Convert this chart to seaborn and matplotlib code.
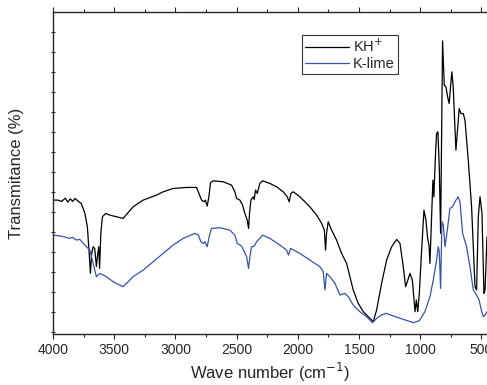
import numpy as np
import pandas as pd
import matplotlib
matplotlib.use("Agg")
import matplotlib.pyplot as plt
import seaborn as sns
from matplotlib.ticker import MultipleLocator

sns.set_style("ticks")
plt.rcParams['font.family'] = ['Liberation Sans', 'DejaVu Sans']

# KH+ spectrum (wave number, transmittance in arbitrary units)
kh_wn = [4000, 3960, 3930, 3900, 3880, 3860, 3840, 3820, 3800, 3770, 3740, 3720, 3705, 3695,
         3685, 3673, 3660, 3646, 3638, 3627, 3620, 3610, 3597, 3570, 3537, 3428, 3346, 3264,
         3155, 3100, 3019, 2910, 2828, 2809, 2787, 2768, 2755, 2741, 2727, 2714, 2692, 2610,
         2542, 2515, 2501, 2474, 2452, 2433, 2414, 2403, 2395, 2384, 2365, 2357, 2346, 2332,
         2311, 2289, 2229, 2174, 2120, 2087, 2071, 2057, 2038, 1984, 1902, 1847, 1806, 1784,
         1774, 1766, 1752, 1725, 1684, 1643, 1602, 1575, 1548, 1507, 1466, 1425, 1398, 1384,
         1357, 1316, 1275, 1234, 1193, 1166, 1139, 1120, 1106, 1084, 1065, 1043, 1032, 1021,
         1008, 989, 970, 954, 940, 929, 921, 908, 897, 889, 878, 867, 856, 845, 834, 826,
         818, 804, 790, 777, 764, 753, 742, 731, 709, 698, 682, 668, 649, 635, 608, 581,
         553, 540, 526, 512, 496, 480, 471, 455]
kh_t = [402, 402, 398, 408, 396, 406, 398, 407, 400, 392, 362, 322, 242, 182,
        242, 262, 257, 202, 232, 262, 197, 302, 352, 362, 357, 347, 382, 402,
        417, 427, 437, 440, 440, 422, 402, 397, 402, 384, 412, 454, 460, 457,
        447, 427, 407, 402, 387, 362, 342, 317, 362, 402, 412, 404, 432, 422,
        452, 460, 452, 442, 427, 412, 397, 422, 427, 412, 382, 357, 332, 312,
        252, 302, 337, 312, 282, 242, 212, 172, 132, 92, 67, 52, 42, 37,
        72, 152, 222, 262, 284, 272, 202, 142, 157, 182, 162, 67, 102, 67,
        122, 252, 372, 342, 287, 267, 212, 352, 462, 412, 522, 602, 607, 502, 302, 602,
        880, 747, 742, 712, 692, 742, 787, 742, 552, 602, 677, 662, 662, 642, 522, 382,
        142, 132, 352, 412, 362, 122, 132, 292]

# K-lime spectrum
kl_wn = [4000, 3940, 3900, 3870, 3840, 3810, 3782, 3741, 3700, 3673, 3646, 3618, 3564, 3510,
         3428, 3346, 3264, 3182, 3101, 3019, 2937, 2841, 2814, 2792, 2773, 2760, 2741, 2725,
         2706, 2638, 2556, 2515, 2496, 2460, 2438, 2419, 2403, 2392, 2379, 2365, 2351, 2338,
         2311, 2289, 2229, 2147, 2093, 2076, 2060, 1984, 1902, 1820, 1793, 1779, 1766, 1738,
         1697, 1657, 1616, 1588, 1548, 1494, 1439, 1390, 1357, 1316, 1280, 1220, 1139, 1057,
         1008, 962, 921, 894, 867, 853, 845, 834, 823, 812, 798, 779, 758, 736, 717, 690,
         676, 654, 622, 594, 567, 540, 520, 498, 485, 471, 455]
kl_t = [297, 294, 291, 287, 290, 282, 284, 267, 252, 212, 172, 182, 172, 157,
        142, 172, 192, 217, 242, 267, 287, 302, 297, 277, 272, 277, 262, 292,
        317, 319, 312, 297, 272, 264, 247, 232, 197, 232, 262, 262, 267, 277,
        287, 297, 287, 267, 252, 237, 257, 242, 222, 202, 187, 132, 182, 172,
        152, 117, 122, 112, 87, 67, 52, 34, 47, 57, 62, 54, 44, 34,
        40, 67, 112, 162, 222, 262, 247, 137, 337, 327, 262, 312, 377, 382, 397, 412,
        397, 302, 262, 202, 132, 117, 102, 67, 52, 57, 67]

df = pd.concat([
    pd.DataFrame({"wn": kh_wn, "t": kh_t, "sample": "KH$^{+}$"}),
    pd.DataFrame({"wn": kl_wn, "t": kl_t, "sample": "K-lime"}),
])

fig = plt.figure(figsize=(4.87, 3.85), dpi=100)
ax = fig.add_axes([0.109, 0.1325, 0.891, 0.8365])

sns.lineplot(data=df, x="wn", y="t", hue="sample", sort=False, estimator=None,
             palette=["black", "#3553b0"], linewidth=0.9, ax=ax)

ax.set_xlim(4000, 455)
ax.set_ylim(0, 967)
ax.xaxis.set_major_locator(MultipleLocator(500))
ax.xaxis.set_minor_locator(MultipleLocator(250))
ax.set_yticks(np.arange(7, 967, 60))
ax.set_yticklabels([])
ax.tick_params(axis="x", which="major", direction="out", length=3.5, width=0.8,
               labelsize=10, pad=3, top=True)
ax.tick_params(axis="x", which="minor", direction="out", length=2.5, width=0.8, top=True)
ax.tick_params(axis="y", direction="inout", length=2.5, width=0.8)
for s in ["left", "bottom", "top"]:
    ax.spines[s].set_linewidth(1.0)
ax.spines["right"].set_visible(False)

ax.set_xlabel("Wave number (cm$^{-1}$)", fontsize=12, labelpad=3)
ax.set_ylabel("Transmitance (%)", fontsize=12, labelpad=16)

leg = ax.legend(loc="upper left", bbox_to_anchor=(302 / 487, 1 - 35 / 385),
                bbox_transform=fig.transFigure, fontsize=10.5, frameon=True,
                fancybox=False, edgecolor="black", handlelength=3.0, handletextpad=0.3,
                borderpad=0.2, labelspacing=0.15, borderaxespad=0)
leg.get_frame().set_linewidth(0.8)

fig.savefig("out.png", dpi=100)
